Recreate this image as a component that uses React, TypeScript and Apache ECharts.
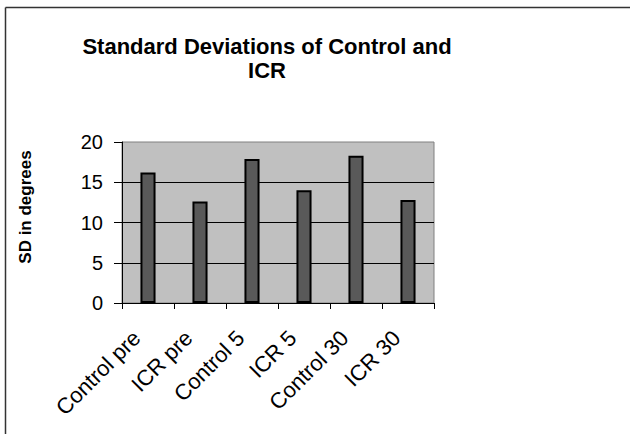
import React, { useEffect, useRef } from "react";
import * as echarts from "echarts";

const categories = ["Control pre", "ICR pre", "Control 5", "ICR 5", "Control 30", "ICR 30"];
const sdValues = [16.2, 12.6, 17.9, 14.0, 18.3, 12.8];
const titleLines = ["Standard Deviations of Control and", "ICR"];
const yAxisName = "SD in degrees";

export default function App() {
  const ref = useRef<HTMLDivElement>(null);
  useEffect(() => {
    if (!ref.current) return;
    const chart = echarts.init(ref.current, undefined, { renderer: "svg" });
    const font = "'Liberation Sans', Arial, sans-serif";
    chart.setOption({
      animation: false,
      backgroundColor: "#ffffff",
      textStyle: { fontFamily: font },
      graphic: [
        {
          type: "line",
          shape: { x1: 5.5, y1: 7.5, x2: 630, y2: 7.5 },
          style: { stroke: "#333", lineWidth: 1.5 },
        },
        {
          type: "line",
          shape: { x1: 5.5, y1: 7.5, x2: 5.5, y2: 434 },
          style: { stroke: "#333", lineWidth: 1.5 },
        },
        {
          type: "text",
          x: 267,
          y: 34,
          style: {
            text: titleLines.join("\n"),
            textAlign: "center",
            fontFamily: font,
            fontWeight: "bold",
            fontSize: 22,
            lineHeight: 24,
            fill: "#000",
          },
        },
        {
          type: "text",
          x: 25,
          y: 207,
          rotation: Math.PI / 2,
          style: {
            text: yAxisName,
            textAlign: "center",
            textVerticalAlign: "middle",
            fontFamily: font,
            fontWeight: "bold",
            fontSize: 17,
            fill: "#000",
          },
        },
      ],
      grid: {
        left: 122,
        top: 142,
        right: 196,
        bottom: 131,
        show: true,
        backgroundColor: "#c0c0c0",
        borderColor: "#808080",
        borderWidth: 1,
      },
      xAxis: {
        type: "category",
        data: categories,
        axisLine: { lineStyle: { color: "#000", width: 1 } },
        axisTick: { show: true, length: 6, lineStyle: { color: "#000" } },
        axisLabel: {
          interval: 0,
          rotate: 45,
          fontSize: 22,
          color: "#000",
          fontFamily: font,
          margin: 20,
          padding: [0, 16, 0, 0],
        },
      },
      yAxis: {
        type: "value",
        min: 0,
        max: 20,
        interval: 5,
        axisLine: { show: true, lineStyle: { color: "#000", width: 1 } },
        axisTick: { show: true, length: 8, lineStyle: { color: "#000" } },
        axisLabel: { fontSize: 20, color: "#000", margin: 19, fontFamily: font },
        splitLine: { show: true, showMaxLine: false, lineStyle: { color: "#000", width: 1 } },
      },
      series: [
        {
          type: "bar",
          data: sdValues,
          barWidth: "29%",
          itemStyle: { color: "#595959", borderColor: "#000", borderWidth: 2 },
        },
      ],
    });
    return () => chart.dispose();
  }, []);
  return (
    <div
      ref={ref}
      style={{ position: "fixed", left: 0, top: 0, width: 630, height: 434 }}
    />
  );
}
